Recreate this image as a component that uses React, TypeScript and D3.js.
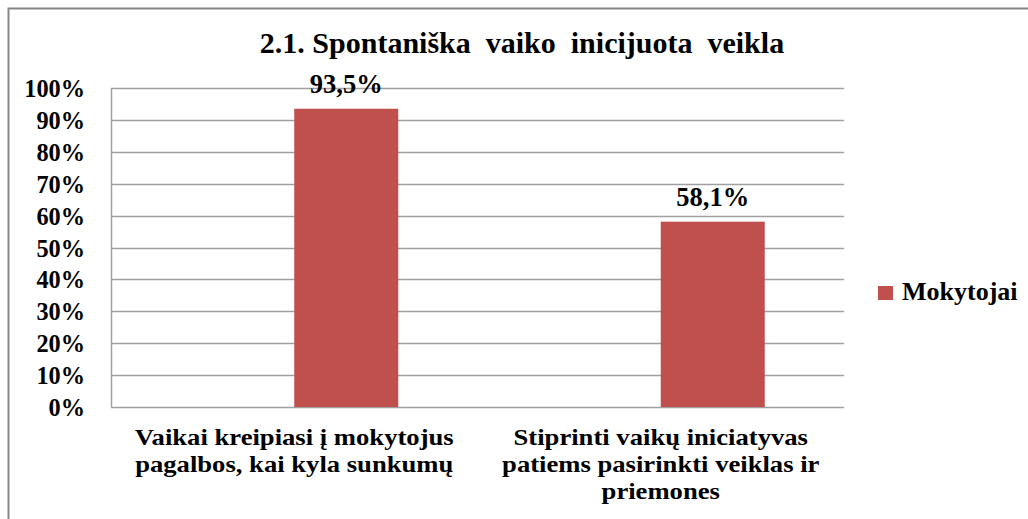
import React from "react";
import * as d3 from "d3";

const title = "2.1. Spontaniška  vaiko  inicijuota  veikla";
const categories = [
  ["Vaikai kreipiasi į mokytojus", "pagalbos, kai kyla sunkumų"],
  ["Stiprinti vaikų iniciatyvas", "patiems pasirinkti veiklas ir", "priemones"],
];
// Excel cluster has an empty first slot; only "Mokytojai" carries values
const seriesSlots = ["", "Mokytojai"];
const seriesName = "Mokytojai";
const mokytojai = [93.5, 58.1];
const yTicks = [0, 10, 20, 30, 40, 50, 60, 70, 80, 90, 100];

const W = 1028;
const H = 519;
const plot = { left: 111, right: 844, top: 88, bottom: 407 };
const FONT = "'Liberation Serif', 'Times New Roman', serif";
const BAR = "#C0504D";
const GRID = "#A0A0A0";
const CAT_SX = 1.11;

export default function App() {
  const x0 = d3
    .scaleBand<number>()
    .domain(categories.map((_, i) => i))
    .range([plot.left, plot.right])
    .padding(0);
  const x1 = d3
    .scaleBand<string>()
    .domain(seriesSlots)
    .range([0, x0.bandwidth()])
    .paddingInner(0)
    .paddingOuter(0.762);
  const y = d3.scaleLinear().domain([0, 100]).range([plot.bottom, plot.top]);
  const fmt = (v: number) => d3.format(".1f")(v).replace(".", ",") + "%";

  return (
    <svg
      width={W}
      height={H}
      style={{ position: "absolute", left: 0, top: 0, background: "#fff" }}
      fontFamily={FONT}
      fontWeight="bold"
    >
      <rect x={0} y={0} width={W} height={H} fill="#fff" />
      <rect
        x={8.5}
        y={8.5}
        width={W + 20}
        height={H + 20}
        fill="none"
        stroke="#868686"
        strokeWidth={2}
      />
      <text
        x={522}
        y={53}
        textAnchor="middle"
        fontSize={30}
        style={{ whiteSpace: "pre" }}
      >
        {title}
      </text>

      {yTicks.map((t) => (
        <g key={t}>
          <line
            x1={plot.left}
            x2={plot.right}
            y1={Math.round(y(t)) + 0.5}
            y2={Math.round(y(t)) + 0.5}
            stroke={GRID}
            strokeWidth={1.5}
          />
          <text x={85} y={y(t) + 9} textAnchor="end" fontSize={24.3}>
            {t}%
          </text>
        </g>
      ))}
      <line
        x1={plot.left + 0.5}
        x2={plot.left + 0.5}
        y1={plot.top}
        y2={plot.bottom}
        stroke={GRID}
        strokeWidth={1.5}
      />

      {mokytojai.map((v, i) => {
        const bx = (x0(i) ?? 0) + (x1(seriesName) ?? 0);
        const bw = x1.bandwidth();
        return (
          <g key={i}>
            <rect
              x={bx}
              y={y(v)}
              width={bw}
              height={y(0) - y(v)}
              fill={BAR}
            />
            <text
              x={bx + bw / 2}
              y={y(v) - 16}
              textAnchor="middle"
              fontSize={26.5}
            >
              {fmt(v)}
            </text>
          </g>
        );
      })}

      {categories.map((lines, i) => {
        const cx = (x0(i) ?? 0) + x0.bandwidth() / 2;
        return (
          <g key={i}>
            {lines.map((l, j) => (
              <text
                key={j}
                transform={`translate(${cx},${445 + j * 27}) scale(${CAT_SX},1)`}
                textAnchor="middle"
                fontSize={24}
              >
                {l}
              </text>
            ))}
          </g>
        );
      })}

      <rect x={878} y={286} width={15} height={14} fill={BAR} />
      <text x={902} y={300} fontSize={26}>
        {seriesName}
      </text>
    </svg>
  );
}
